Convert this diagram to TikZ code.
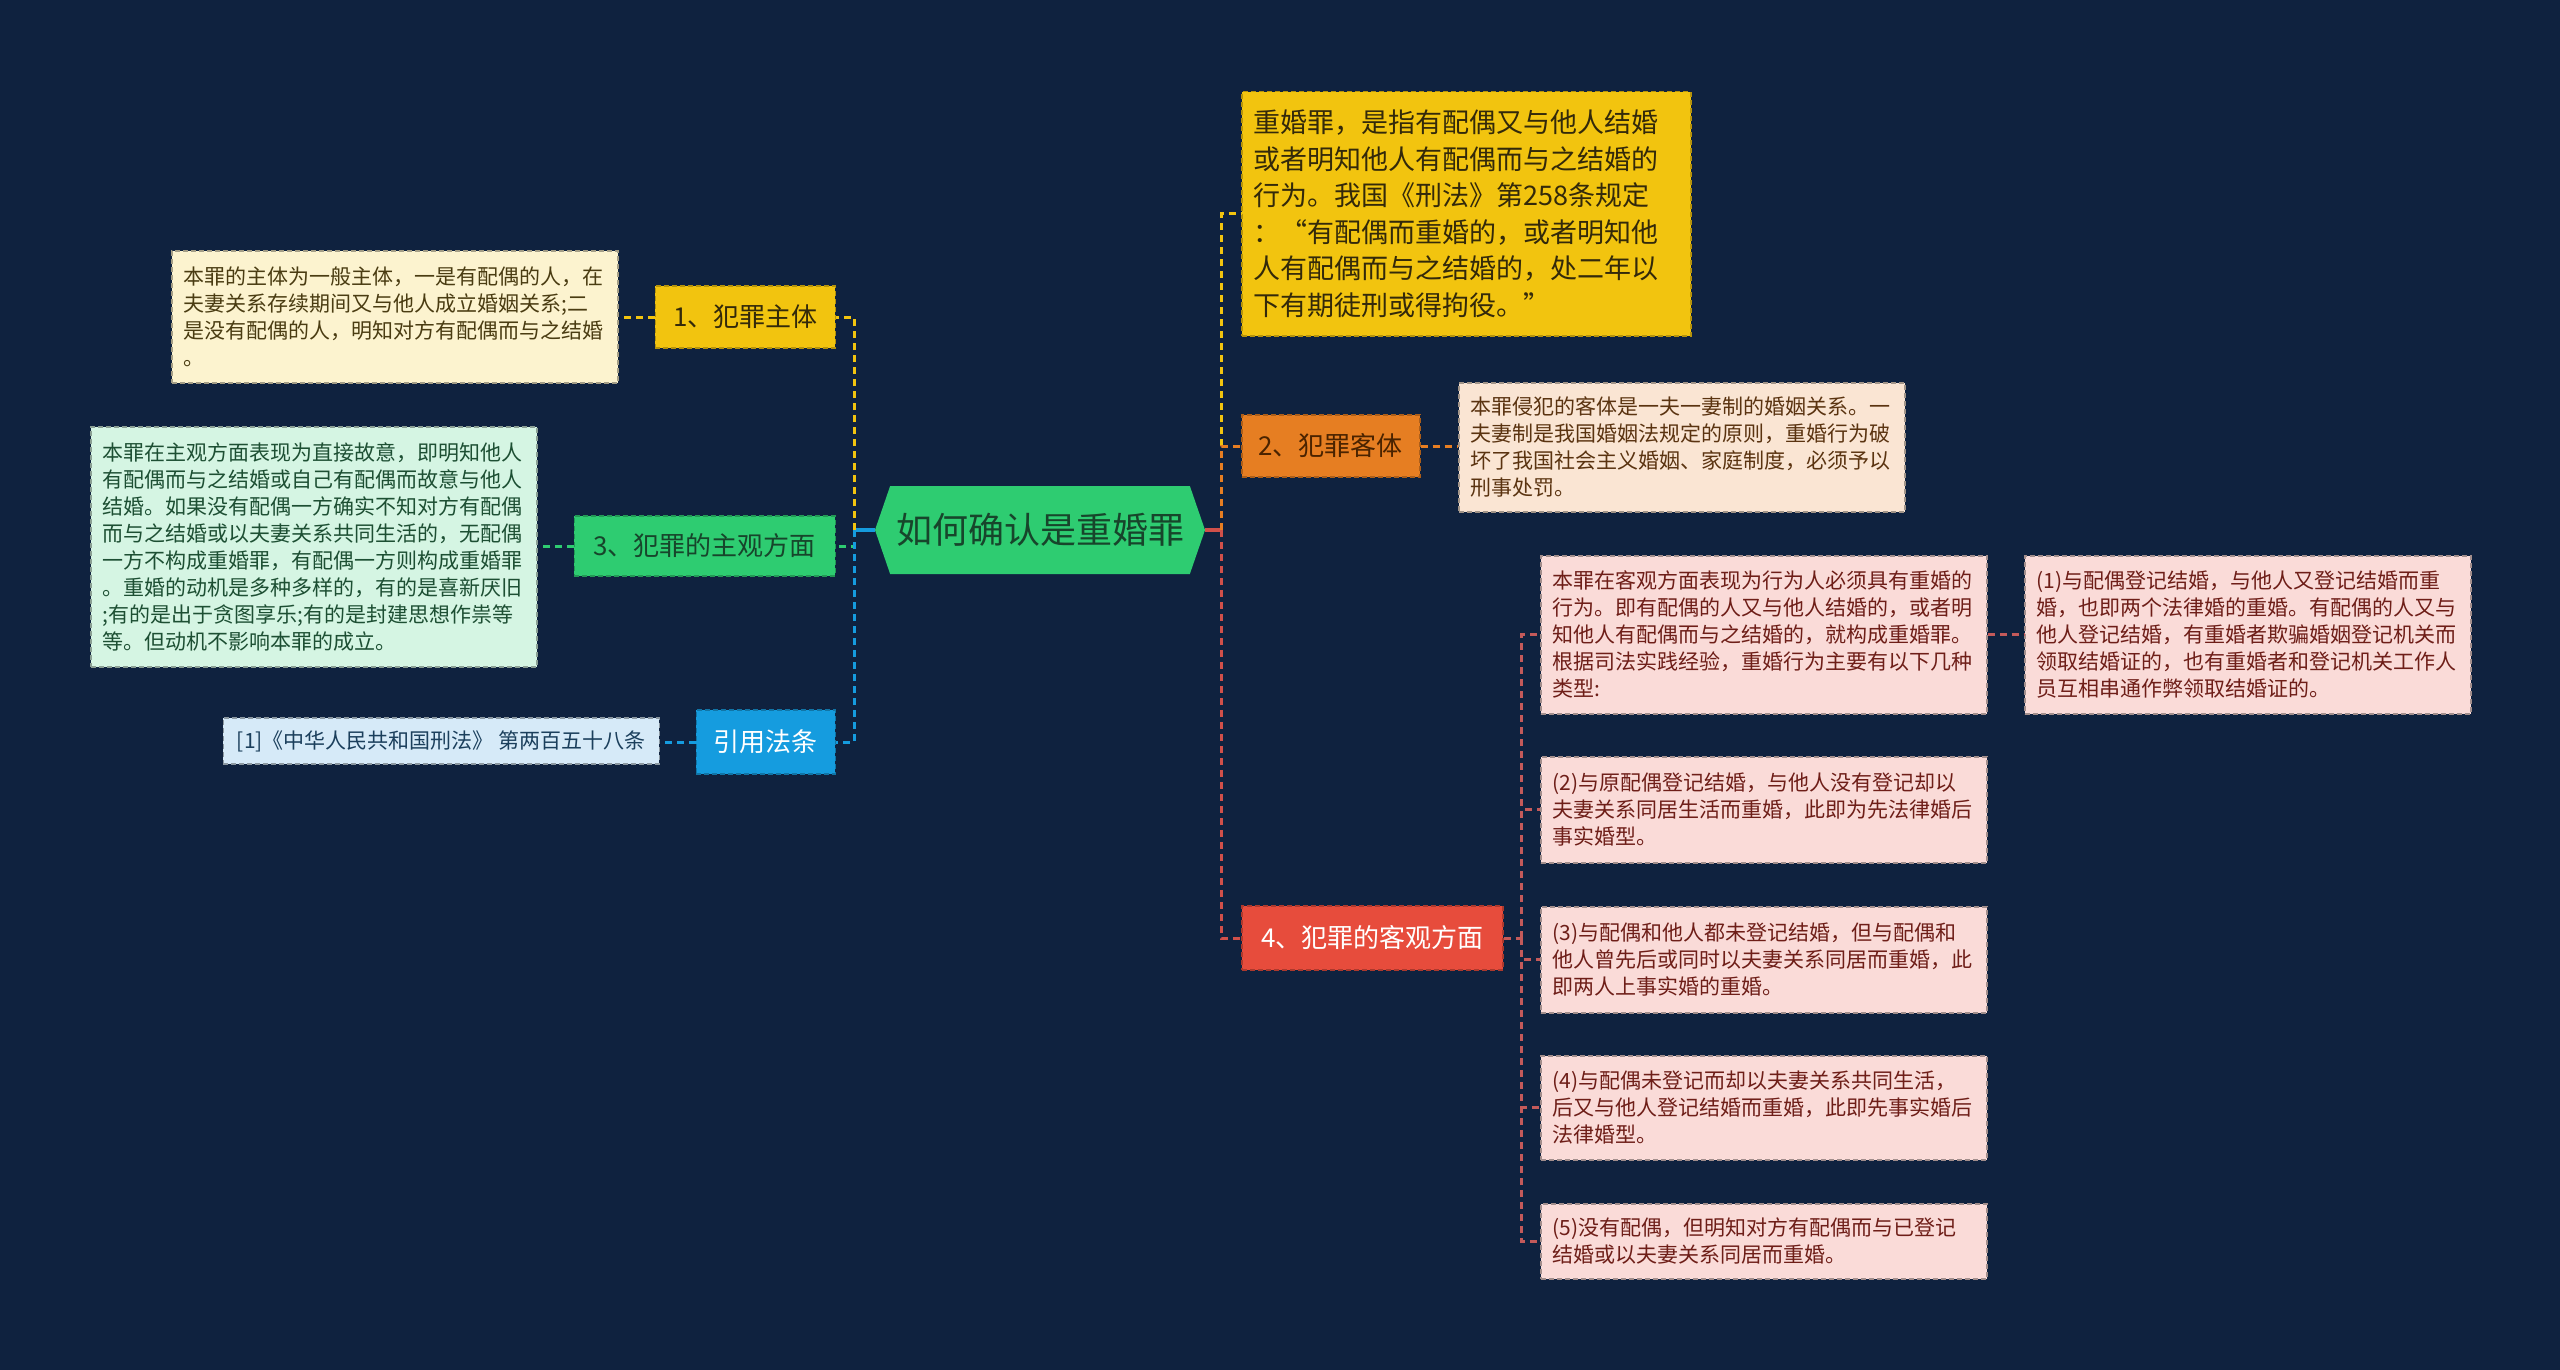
\documentclass[tikz,border=0pt]{standalone}
\usepackage{fontspec}
\setmainfont{Noto Sans CJK SC}
\usetikzlibrary{shapes.symbols}
\definecolor{bg}{HTML}{0F223F}
\definecolor{cYel}{HTML}{F2C40F}
\definecolor{cYelT}{HTML}{33290A}
\definecolor{cCream}{HTML}{FCF3CF}
\definecolor{cCreamT}{HTML}{4A3C12}
\definecolor{cGreen}{HTML}{2ECC71}
\definecolor{cGreenT}{HTML}{17452B}
\definecolor{cMint}{HTML}{D5F5E3}
\definecolor{cMintT}{HTML}{1D4F33}
\definecolor{cBlue}{HTML}{159CDF}
\definecolor{cSky}{HTML}{D6EAF8}
\definecolor{cSkyT}{HTML}{1B3F5C}
\definecolor{cOrange}{HTML}{E67E22}
\definecolor{cOrangeT}{HTML}{4A2300}
\definecolor{cPeach}{HTML}{FAE5D3}
\definecolor{cPeachT}{HTML}{5A3310}
\definecolor{cRed}{HTML}{E74C3C}
\definecolor{cRedLine}{HTML}{D0504A}
\definecolor{cPink}{HTML}{FADBD8}
\definecolor{cPinkT}{HTML}{6E1E18}
\definecolor{cPinkLine}{HTML}{C45A5A}
\tikzset{
  leafbox/.style={draw, dash pattern=on 5pt off 3pt, line width=1.5pt,
    font=\fontsize{21}{27}\selectfont, align=left, inner xsep=12pt, inner ysep=8pt,
    anchor=north west, text width=422pt},
  branchL/.style={draw, dash pattern=on 5pt off 3pt, line width=1.5pt,
    font=\fontsize{26}{30}\selectfont, anchor=east, inner sep=0pt},
  branchR/.style={branchL, anchor=west},
  conn/.style={line width=3pt, dash pattern=on 7pt off 5pt},
  stub/.style={line width=3.5pt},
}
\begin{document}
\begin{tikzpicture}[x=1pt,y=-1pt]
\fill[bg] (0,0) rectangle (2560,1370);
\useasboundingbox (0,0) rectangle (2560,1370);

% root
\node[signal, signal to=west and east, signal pointer angle=142, fill=cGreen,
  minimum width=330pt, minimum height=88pt, inner sep=0pt, text=cGreenT,
  font=\fontsize{36}{40}\selectfont] (root) at (1040,530) {如何确认是重婚罪};

% left branches
\node[branchL, fill=cYel, draw=cYel!75!black, text=cYelT, minimum width=180pt, minimum height=62pt] (n1) at (836,317) {1、犯罪主体};
\node[branchL, fill=cGreen, draw=cGreen!75!black, text=cGreenT, minimum width=261pt, minimum height=60pt] (n3) at (836,546) {3、犯罪的主观方面};
\node[branchL, fill=cBlue, draw=cBlue!75!black, text=white, minimum width=139pt, minimum height=64pt] (ref) at (836,742) {引用法条};

% left leaves
\node[leafbox, fill=cCream, draw=cCream!65!black, text=cCreamT, minimum height=132pt] (b1) at (171,250) {本罪的主体为一般主体，一是有配偶的人，在\\夫妻关系存续期间又与他人成立婚姻关系;二\\是没有配偶的人，明知对方有配偶而与之结婚\\。};
\node[leafbox, fill=cMint, draw=cMint!65!black, text=cMintT, minimum height=240pt] (b3) at (90,426) {本罪在主观方面表现为直接故意，即明知他人\\有配偶而与之结婚或自己有配偶而故意与他人\\结婚。如果没有配偶一方确实不知对方有配偶\\而与之结婚或以夫妻关系共同生活的，无配偶\\一方不构成重婚罪，有配偶一方则构成重婚罪\\。重婚的动机是多种多样的，有的是喜新厌旧\\;有的是出于贪图享乐;有的是封建思想作祟等\\等。但动机不影响本罪的成立。};
\node[leafbox, text width=, fill=cSky, draw=cSky!65!black, text=cSkyT, minimum width=436pt, minimum height=46pt, inner ysep=4pt, anchor=east] (rb) at (660,741) {[1]《中华人民共和国刑法》 第两百五十八条};

% right branches
\node[leafbox, fill=cYel, draw=cYel!75!black, text=cYelT, text width=425pt,
  font=\fontsize{27}{36.6}\selectfont, minimum height=244pt] (top) at (1241,91) {重婚罪，是指有配偶又与他人结婚\\或者明知他人有配偶而与之结婚的\\行为。我国《刑法》第258条规定\\：“有配偶而重婚的，或者明知他\\人有配偶而与之结婚的，处二年以\\下有期徒刑或得拘役。”};
\node[branchR, fill=cOrange, draw=cOrange!75!black, text=cOrangeT, minimum width=178pt, minimum height=62pt] (n2) at (1241,446) {2、犯罪客体};
\node[branchR, fill=cRed, draw=cRed!75!black, text=white, minimum width=261pt, minimum height=64pt] (n4) at (1241,938) {4、犯罪的客观方面};

\node[leafbox, fill=cPeach, draw=cPeach!65!black, text=cPeachT, minimum height=129pt] (b2) at (1458,382) {本罪侵犯的客体是一夫一妻制的婚姻关系。一\\夫妻制是我国婚姻法规定的原则，重婚行为破\\坏了我国社会主义婚姻、家庭制度，必须予以\\刑事处罚。};

\node[leafbox, fill=cPink, draw=cPink!65!black, text=cPinkT, minimum height=158pt] (ba) at (1540,555) {本罪在客观方面表现为行为人必须具有重婚的\\行为。即有配偶的人又与他人结婚的，或者明\\知他人有配偶而与之结婚的，就构成重婚罪。\\根据司法实践经验，重婚行为主要有以下几种\\类型:};
\node[leafbox, fill=cPink, draw=cPink!65!black, text=cPinkT, minimum height=158pt] (c1) at (2024,555) {(1)与配偶登记结婚，与他人又登记结婚而重\\婚，也即两个法律婚的重婚。有配偶的人又与\\他人登记结婚，有重婚者欺骗婚姻登记机关而\\领取结婚证的，也有重婚者和登记机关工作人\\员互相串通作弊领取结婚证的。};
\node[leafbox, fill=cPink, draw=cPink!65!black, text=cPinkT, minimum height=106pt] (c2) at (1540,756) {(2)与原配偶登记结婚，与他人没有登记却以\\夫妻关系同居生活而重婚，此即为先法律婚后\\事实婚型。};
\node[leafbox, fill=cPink, draw=cPink!65!black, text=cPinkT, minimum height=106pt] (c3) at (1540,906) {(3)与配偶和他人都未登记结婚，但与配偶和\\他人曾先后或同时以夫妻关系同居而重婚，此\\即两人上事实婚的重婚。};
\node[leafbox, fill=cPink, draw=cPink!65!black, text=cPinkT, minimum height=104pt] (c4) at (1540,1055) {(4)与配偶未登记而却以夫妻关系共同生活，\\后又与他人登记结婚而重婚，此即先事实婚后\\法律婚型。};
\node[leafbox, fill=cPink, draw=cPink!65!black, text=cPinkT, minimum height=75pt] (c5) at (1540,1203) {(5)没有配偶，但明知对方有配偶而与已登记\\结婚或以夫妻关系同居而重婚。};

% connectors left
\coordinate (jl) at (854,530);
\coordinate (jr) at (1221,530);
\draw[stub, cBlue] (root.west) -- (jl);
\draw[conn, cYel] (jl) |- (n1.east);
\draw[conn, cGreen] (jl) |- (n3.east);
\draw[conn, cBlue] (jl) |- (ref.east);
\draw[conn, cYel] (n1.west) -- (b1.east |- n1.west);
\draw[conn, cGreen] (n3.west) -- (b3.east |- n3.west);
\draw[conn, cBlue] (ref.west) -- (rb.east |- ref.west);

% connectors right
\draw[stub, cRedLine] (root.east) -- (jr);
\draw[conn, cYel] (jr) |- (top.west);
\draw[conn, cOrange] (jr) |- (n2.west);
\draw[conn, cRedLine] (jr) |- (n4.west);
\draw[conn, cOrange] (n2.east) -- (b2.west |- n2.east);

\draw[conn, cPinkLine] (n4.east) -- ++(18,0) coordinate (j4);
\draw[conn, cPinkLine] (j4) |- (ba.west);
\draw[conn, cPinkLine] (j4) |- (c2.west);
\draw[conn, cPinkLine] (j4) |- (c3.west);
\draw[conn, cPinkLine] (j4) |- (c4.west);
\draw[conn, cPinkLine] (j4) |- (c5.west);
\draw[conn, cPinkLine] (ba.east) -- (c1.west);
\end{tikzpicture}
\end{document}
